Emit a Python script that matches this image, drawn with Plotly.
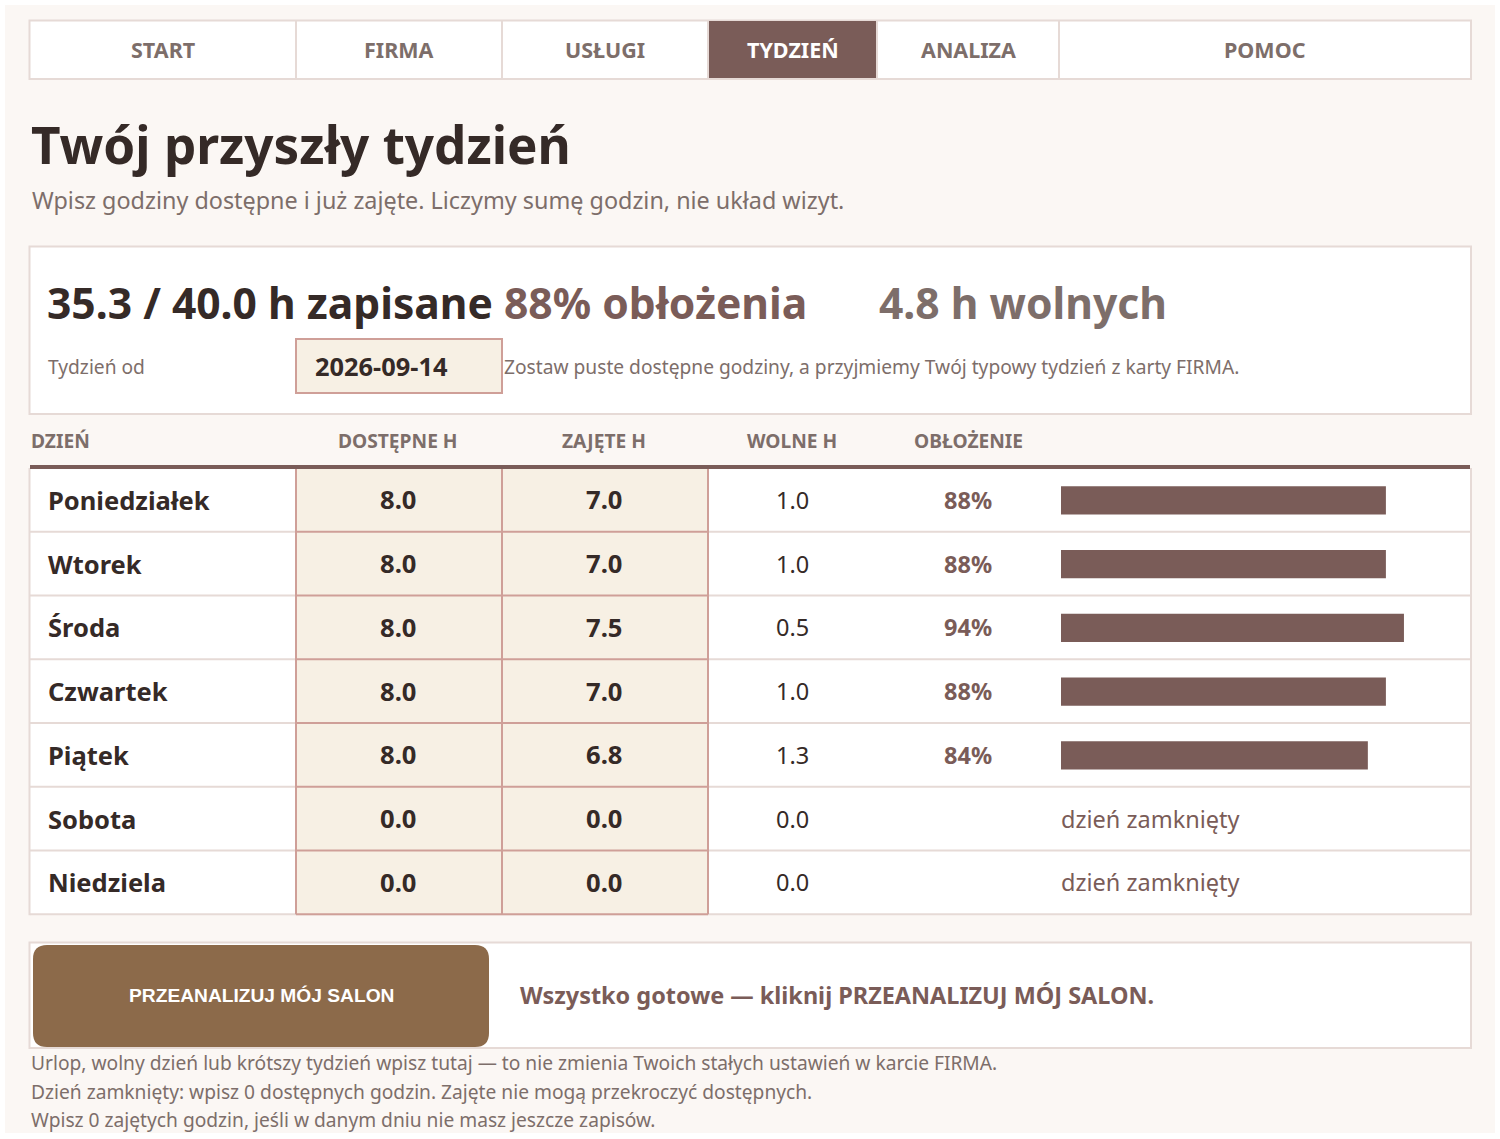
import plotly.graph_objects as go

# chart values
nav_labels = ["START", "FIRMA", "USŁUGI", "TYDZIEŃ", "ANALIZA", "POMOC"]
column_labels = ["DZIEŃ", "DOSTĘPNE H", "ZAJĘTE H", "WOLNE H", "OBŁOŻENIE"]
days = ["Poniedziałek", "Wtorek", "Środa", "Czwartek", "Piątek", "Sobota", "Niedziela"]
available = [8.0, 8.0, 8.0, 8.0, 8.0, 0.0, 0.0]
booked = [7.0, 7.0, 7.5, 7.0, 6.8, 0.0, 0.0]
free = [1.0, 1.0, 0.5, 1.0, 1.3, 0.0, 0.0]
occupancy = ["88%", "88%", "94%", "88%", "84%", "", ""]
# bars are drawn in 5% blocks in the original
bar_blocks = [90, 90, 95, 90, 85, 0, 0]
closed_label = "dzień zamknięty"
notes = [
    "Urlop, wolny dzień lub krótszy tydzień wpisz tutaj — to nie zmienia Twoich stałych ustawień w karcie FIRMA.",
    "Dzień zamknięty: wpisz 0 dostępnych godzin. Zajęte nie mogą przekroczyć dostępnych.",
    "Wpisz 0 zajętych godzin, jeśli w danym dniu nie masz jeszcze zapisów.",
]

W, H = 1500, 1139
DARK = "#352a27"
ACCENT = "#7a5c58"
MUTED = "#7d6e6a"
BORDER = "#e6dad6"
INPUT_FILL = "#f7f0e4"
INPUT_BORDER = "#cf9f98"
FONT = "Noto Sans"

nav_edges = [29.5, 296, 502, 708, 877, 1059, 1471]
col_centers = [398, 604, 792, 968]
row_top = 468
row_h = 63.75

fig = go.Figure()


def box(x0, y0, x1, y1, fill="rgba(0,0,0,0)", line=BORDER, width=2):
    fig.add_shape(type="rect", x0=x0, y0=y0, x1=x1, y1=y1, fillcolor=fill,
                  line=dict(color=line, width=width), xref="x", yref="y", layer="below")


def hline(x0, x1, y, color=BORDER, width=2):
    fig.add_shape(type="line", x0=x0, x1=x1, y0=y, y1=y, xref="x", yref="y",
                  line=dict(color=color, width=width), layer="below")


def vline(x, y0, y1, color=BORDER, width=2):
    fig.add_shape(type="line", x0=x, x1=x, y0=y0, y1=y1, xref="x", yref="y",
                  line=dict(color=color, width=width), layer="below")


def label(x, y, text, size, color=DARK, bold=False, anchor="left", family=FONT):
    fig.add_annotation(
        x=x, y=y, xref="x", yref="y", text="<b>" + text + "</b>" if bold else text,
        showarrow=False, xanchor=anchor, yanchor="middle", align=anchor,
        font=dict(family=family, size=size, color=color),
        borderpad=0, borderwidth=0,
    )


# page background
box(5, 5, 1495, 1133, fill="#fbf7f4", line="#fbf7f4", width=0)

# nav bar
box(29.5, 20.5, 1471, 79, fill="white")
fig.add_shape(type="rect", x0=708, x1=877, y0=21, y1=78, fillcolor=ACCENT,
              line=dict(width=0), xref="x", yref="y", layer="below")
for e in nav_edges[1:-1]:
    vline(e, 21, 78)
for i, name in enumerate(nav_labels):
    mid = (nav_edges[i] + nav_edges[i + 1]) / 2
    label(mid, 49, name, 21.5, color="white" if name == "TYDZIEŃ" else MUTED, bold=True, anchor="center")

# heading
label(31, 144, "Twój przyszły tydzień", 51.2, bold=True)
label(31.5, 199.5, "Wpisz godziny dostępne i już zajęte. Liczymy sumę godzin, nie układ wizyt.", 23.36, color=MUTED)

# summary panel
box(29.5, 246.5, 1471, 414, fill="white")
label(47, 301.5, "35.3 / 40.0 h zapisane", 42.6, bold=True)
label(503.5, 301.5, "88% obłożenia", 42.6, color=ACCENT, bold=True)
label(879, 301.5, "4.8 h wolnych", 42.6, color=MUTED, bold=True)
label(48, 366, "Tydzień od", 19.2, color=MUTED)
box(296, 339, 502, 393, fill=INPUT_FILL, line=INPUT_BORDER)
label(314.5, 366, "2026-09-14", 25.4, bold=True)
label(503.5, 366, "Zostaw puste dostępne godziny, a przyjmiemy Twój typowy tydzień z karty FIRMA.", 19.2, color=MUTED)

# table head
label(31, 440.5, column_labels[0], 19.2, color=MUTED, bold=True)
for c, name in zip(col_centers, column_labels[1:]):
    label(c, 440.5, name, 19.2, color=MUTED, bold=True, anchor="center")

# table body
table_bottom = row_top + row_h * len(days)
fig.add_shape(type="rect", x0=30, x1=1471, y0=row_top, y1=table_bottom, fillcolor="white",
              line=dict(width=0), xref="x", yref="y", layer="below")
for i in range(1, len(days) + 1):
    hline(30, 1471, row_top + row_h * i)
vline(29.5, row_top, table_bottom + 1)
vline(1471, row_top, table_bottom + 1)
fig.add_shape(type="rect", x0=296, x1=708, y0=row_top, y1=table_bottom, fillcolor=INPUT_FILL,
              line=dict(width=0), xref="x", yref="y", layer="below")
for i in range(1, len(days) + 1):
    hline(296, 708, row_top + row_h * i, color=INPUT_BORDER)
for x in (296, 502, 708):
    vline(x, row_top, table_bottom, color=INPUT_BORDER)
hline(30, 1470, 467, color=ACCENT, width=4)

for i, day in enumerate(days):
    y = row_top + row_h * (i + 0.5)
    label(47.5, y, day, 25.5, bold=True)
    label(col_centers[0], y, f"{available[i]:.1f}", 25.6, bold=True, anchor="center")
    label(col_centers[1], y, f"{booked[i]:.1f}", 25.6, bold=True, anchor="center")
    label(col_centers[2], y, f"{free[i]:.1f}", 23.5, anchor="center")
    if occupancy[i]:
        label(col_centers[3], y, occupancy[i], 23.5, color=ACCENT, bold=True, anchor="center")
    else:
        label(1061, y, closed_label, 23.5, color=ACCENT)

# occupancy bars on their own axes, lined up with the rows
fig.add_trace(go.Bar(
    x=bar_blocks, y=days, orientation="h", xaxis="x2", yaxis="y2",
    marker=dict(color=ACCENT, line=dict(width=0)), hoverinfo="skip", showlegend=False,
))

# action panel
box(29.5, 942.5, 1471, 1048, fill="white")
fig.add_shape(
    type="path", xref="x", yref="y", layer="below", fillcolor="#8c6a4a", line=dict(width=0),
    path="M 47 945 L 475 945 Q 489 945 489 959 L 489 1033 Q 489 1047 475 1047 "
         "L 47 1047 Q 33 1047 33 1033 L 33 959 Q 33 945 47 945 Z",
)
label(261, 995.5, "PRZEANALIZUJ MÓJ SALON", 19.2, color="white", bold=True, anchor="center", family="Liberation Sans")
label(520, 995, "Wszystko gotowe — kliknij PRZEANALIZUJ MÓJ SALON.", 23.45, color=ACCENT, bold=True)

# footnotes
for y, note in zip((1062, 1091, 1119.5), notes):
    label(31, y, note, 19.2, color=MUTED)

fig.update_layout(
    width=W, height=H, margin=dict(l=0, r=0, t=0, b=0, pad=0),
    paper_bgcolor="white", plot_bgcolor="rgba(0,0,0,0)", bargap=0.56,
    xaxis=dict(range=[0, W], domain=[0, 1], visible=False, fixedrange=True),
    yaxis=dict(range=[H, 0], domain=[0, 1], visible=False, fixedrange=True),
    xaxis2=dict(range=[0, 100], domain=[1061 / W, (1061 + 361) / W], visible=False, anchor="y2", fixedrange=True),
    yaxis2=dict(autorange="reversed", type="category", domain=[1 - (table_bottom + 0.5) / H, 1 - (row_top + 0.5) / H],
                visible=False, anchor="x2", fixedrange=True),
    font=dict(family=FONT),
)

fig.write_html("out.html", config=dict(displayModeBar=False),
               post_script="document.body.style.margin='0';")
